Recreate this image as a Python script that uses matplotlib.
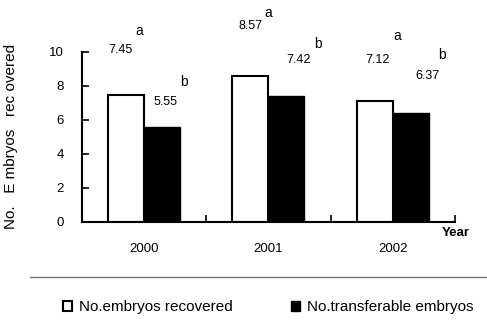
# Embryos recovered vs transferable embryos per year, bar chart with significance letters
import matplotlib.pyplot as plt
from matplotlib.lines import Line2D
import numpy as np

plt.rcParams['font.family'] = ['Liberation Sans', 'DejaVu Sans']

years = ['2000', '2001', '2002']
recovered = [7.45, 8.57, 7.12]
transferable = [5.55, 7.42, 6.37]
letters_rec = ['a', 'a', 'a']
letters_tr = ['b', 'b', 'b']

# label placement (x offset from group centre, y in data units)
num_rec_pos = [(-0.19, 10.1), (-0.14, 11.5), (-0.12, 9.5)]
let_rec_pos = [(-0.04, 11.2), (0.0, 12.3), (0.04, 10.9)]
num_tr_pos = [(0.17, 7.05), (0.24, 9.5), (0.28, 8.6)]
let_tr_pos = [(0.32, 8.2), (0.40, 10.45), (0.40, 9.8)]

fig = plt.figure(figsize=(4.87, 3.32), dpi=100)
ax = fig.add_axes([0.168, 0.332, 0.766, 0.512])

x = np.arange(len(years))
w = 0.29
b1 = ax.bar(x - w / 2, recovered, w, color='white', edgecolor='black', linewidth=1.5)
b2 = ax.bar(x + w / 2, transferable, w, color='black', edgecolor='black', linewidth=1.0)

for i in range(len(years)):
    ax.text(x[i] + num_rec_pos[i][0], num_rec_pos[i][1], f'{recovered[i]:.2f}',
            ha='center', va='center', fontsize=9, clip_on=False)
    ax.text(x[i] + let_rec_pos[i][0], let_rec_pos[i][1], letters_rec[i],
            ha='center', va='center', fontsize=10, clip_on=False)
    ax.text(x[i] + num_tr_pos[i][0], num_tr_pos[i][1], f'{transferable[i]:.2f}',
            ha='center', va='center', fontsize=9, clip_on=False)
    ax.text(x[i] + let_tr_pos[i][0], let_tr_pos[i][1], letters_tr[i],
            ha='center', va='center', fontsize=10, clip_on=False)

ax.set_xlim(-0.5, 2.5)
ax.set_ylim(0, 10)
ax.set_yticks(range(0, 11, 2))
ax.set_xticks(x)
ax.set_xticklabels(years)
ax.set_xticks([0.5, 1.5, 2.5], minor=True)
ax.tick_params(axis='y', direction='in', length=5, width=1.2, labelsize=9.5, pad=13)
ax.tick_params(axis='x', which='major', length=0, labelsize=9.5, pad=15)
ax.tick_params(axis='x', which='minor', direction='in', length=5, width=1.2)
for s in ['top', 'right']:
    ax.spines[s].set_visible(False)
for s in ['left', 'bottom']:
    ax.spines[s].set_linewidth(1.5)

ax.set_ylabel('No.   E mbryos   rec overed', fontsize=11)
ax.yaxis.set_label_coords(-0.17, 0.5)
fig.text(0.935, 0.298, 'Year', fontsize=9.5, fontweight='bold', ha='center', va='center')

# separator line above the legend
fig.add_artist(Line2D([0.062, 1.0], [0.167, 0.167], color='#777777', lw=1.0))

fig.legend([b1, b2], ['No.embryos recovered', 'No.transferable embryos'],
           loc='center', bbox_to_anchor=(0.55, 0.075), ncol=2, frameon=False,
           fontsize=11, handlelength=0.6, handleheight=0.6, handletextpad=0.45,
           columnspacing=3.8)

fig.savefig('out.png', dpi=100)
